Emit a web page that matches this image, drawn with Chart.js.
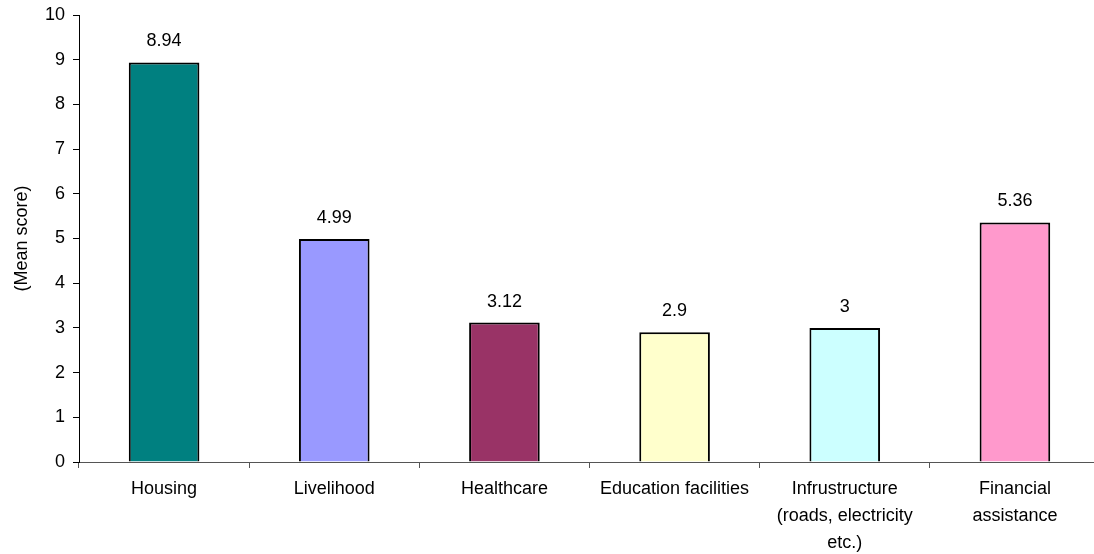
<!DOCTYPE html>
<html>
<head>
<meta charset="utf-8">
<script src="https://cdn.jsdelivr.net/npm/chart.js@4/dist/chart.umd.min.js"></script>
<style>
  html, body { margin: 0; padding: 0; background: #fff; overflow: hidden; }
  canvas { display: block; }
</style>
</head>
<body>
<canvas id="c" width="1100" height="554"></canvas>
<script>
const categories = [
  "Housing",
  "Livelihood",
  "Healthcare",
  "Education facilities",
  ["Infrustructure", "(roads, electricity", "etc.)"],
  ["Financial", "assistance"]
];
const meanScores = [8.94, 4.99, 3.12, 2.9, 3, 5.36];
const barColors = ["#008080", "#9999FF", "#993366", "#FFFFCC", "#CCFFFF", "#FF99CC"];
const yAxisTitle = "(Mean score)";

const FONT = "'Liberation Sans', Arial, sans-serif";

const valueLabels = {
  id: "valueLabels",
  afterDatasetsDraw(chart) {
    const ctx = chart.ctx;
    const meta = chart.getDatasetMeta(0);
    ctx.save();
    ctx.font = "18px " + FONT;
    ctx.fillStyle = "#000";
    ctx.textAlign = "center";
    ctx.textBaseline = "alphabetic";
    meta.data.forEach((bar, i) => {
      ctx.fillText(String(meanScores[i]), bar.x, bar.y - 16);
    });
    ctx.restore();
  }
};

new Chart(document.getElementById("c"), {
  type: "bar",
  data: {
    labels: categories,
    datasets: [{
      data: meanScores,
      backgroundColor: barColors,
      borderColor: "#000",
      borderWidth: 2,
      categoryPercentage: 1,
      barPercentage: 0.415
    }]
  },
  options: {
    responsive: false,
    animation: false,
    layout: { padding: { top: 15, right: 0, left: 0, bottom: 0 } },
    plugins: {
      legend: { display: false },
      tooltip: { enabled: false }
    },
    scales: {
      x: {
        afterFit(scale) { scale.height = 92; },
        border: { display: true, color: "#555", width: 1 },
        grid: { display: true, offset: true, drawOnChartArea: false, drawTicks: true, tickLength: 6, color: "#555" },
        ticks: {
          color: "#000",
          font: { family: FONT, size: 18, lineHeight: 1.48 },
          padding: 8,
          maxRotation: 0,
          autoSkip: false
        }
      },
      y: {
        min: 0,
        max: 10,
        afterFit(scale) { scale.width = 79; scale.paddingTop = 0; scale.paddingBottom = 0; },
        border: { display: true, color: "#000", width: 1 },
        grid: { display: true, drawOnChartArea: false, drawTicks: true, tickLength: 6, color: "#000" },
        ticks: {
          stepSize: 1,
          color: "#000",
          font: { family: FONT, size: 18 },
          padding: 8
        },
        title: {
          display: true,
          text: yAxisTitle,
          color: "#000",
          font: { family: FONT, size: 18 },
          padding: { top: 11, bottom: 0 }
        }
      }
    }
  },
  plugins: [valueLabels]
});
</script>
</body>
</html>
